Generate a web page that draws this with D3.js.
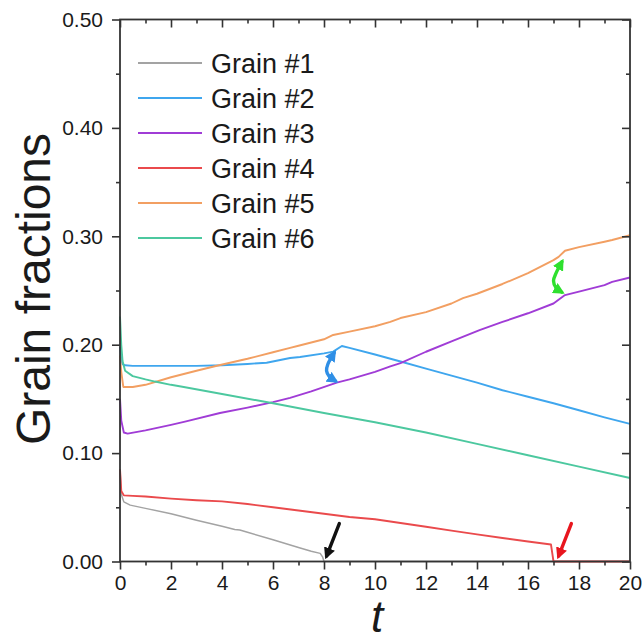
<!DOCTYPE html>
<html>
<head>
<meta charset="utf-8">
<script src="https://cdn.jsdelivr.net/npm/d3@7"></script>
<style>
  body { margin: 0; background: #fff; }
  text { font-family: "Liberation Sans", Arial, sans-serif; fill: #1a1a1a; }
</style>
</head>
<body>
<script>
// series names and colours
var names = ["Grain #1", "Grain #2", "Grain #3", "Grain #4", "Grain #5", "Grain #6"];
var colors = ["#a3a3a3", "#3fa6ee", "#a03cd6", "#ea4a4c", "#f29f62", "#4cc89f"];

// values (t, fraction)
var g1t = [0, 0.05, 0.15, 0.4, 1, 2, 3, 4, 4.5, 4.7, 5, 6, 7, 7.5, 7.85, 7.95, 8.0, 20];
var g1v = [0.085, 0.062, 0.055, 0.052, 0.049, 0.044, 0.038, 0.0325, 0.0295, 0.029, 0.027, 0.020, 0.013, 0.0095, 0.0075, 0.004, 0, 0];

var g2t = [0, 0.05, 0.1, 0.2, 0.5, 1, 2, 3, 4, 5, 5.75, 6.67, 7.06, 8, 8.36, 8.7, 9, 10, 11, 12, 13, 14, 15, 16, 17, 18, 19, 20];
var g2v = [0.198, 0.186, 0.182, 0.181, 0.1805, 0.1805, 0.1805, 0.1805, 0.181, 0.1822, 0.1834, 0.1877, 0.1886, 0.192, 0.1936, 0.1988, 0.197, 0.191, 0.1845, 0.178, 0.1715, 0.165, 0.158, 0.152, 0.146, 0.1395, 0.133, 0.127];

var g3t = [0, 0.05, 0.15, 0.3, 1, 2, 2.55, 3.92, 5, 6, 6.67, 7.5, 8.5, 9, 10, 10.6, 11, 12, 13, 14.1, 15, 16, 17, 17.45, 18, 19, 19.3, 20];
var g3v = [0.15, 0.13, 0.119, 0.118, 0.121, 0.126, 0.129, 0.137, 0.142, 0.147, 0.151, 0.157, 0.165, 0.168, 0.175, 0.18, 0.183, 0.1935, 0.203, 0.2135, 0.221, 0.229, 0.238, 0.2458, 0.249, 0.255, 0.258, 0.262];

var g4t = [0, 0.05, 0.15, 0.5, 1, 2, 3, 4, 5, 6, 7, 8, 9, 10, 11, 12, 13, 14, 15, 16, 16.9, 16.95, 17.0, 20];
var g4v = [0.085, 0.065, 0.061, 0.0605, 0.060, 0.058, 0.0565, 0.0555, 0.053, 0.050, 0.047, 0.044, 0.041, 0.039, 0.0355, 0.032, 0.0285, 0.025, 0.0217, 0.0185, 0.0157, 0.008, 0, 0];

var g5t = [0, 0.05, 0.13, 0.5, 1, 2, 3, 3.8, 5, 6, 6.67, 7, 8, 8.36, 9, 10, 10.6, 11, 12, 13, 13.45, 14, 15, 16, 17, 17.2, 17.45, 18, 19, 19.3, 20];
var g5v = [0.19, 0.175, 0.161, 0.161, 0.163, 0.170, 0.176, 0.1806, 0.187, 0.193, 0.197, 0.199, 0.205, 0.209, 0.212, 0.217, 0.221, 0.2246, 0.230, 0.238, 0.243, 0.247, 0.256, 0.266, 0.278, 0.281, 0.2867, 0.290, 0.295, 0.2966, 0.301];

var g6t = [0, 0.05, 0.1, 0.2, 0.5, 1, 1.37, 2, 2.5, 4, 6, 8, 10, 12, 14, 16, 18, 20];
var g6v = [0.226, 0.2, 0.185, 0.176, 0.171, 0.168, 0.166, 0.163, 0.161, 0.1545, 0.146, 0.137, 0.1285, 0.119, 0.1085, 0.098, 0.0875, 0.077];

var seriesT = [g1t, g2t, g3t, g4t, g5t, g6t];
var seriesV = [g1v, g2v, g3v, g4v, g5v, g6v];

// ticks
var xMajor = [0, 2, 4, 6, 8, 10, 12, 14, 16, 18, 20];
var xMinor = [1, 3, 5, 7, 9, 11, 13, 15, 17, 19];
var yMajor = [0, 0.1, 0.2, 0.3, 0.4, 0.5];
var yMinor = [0.05, 0.15, 0.25, 0.35, 0.45];

// annotation arrows in data coords [t, value]
var blackArrow = [[8.6, 0.035], [8.1, 0.005]];
var redArrow = [[17.7, 0.035], [17.2, 0.005]];
var blueArrow = [[8.4, 0.1925], [8.15, 0.182], [8.1, 0.176], [8.2, 0.171], [8.45, 0.1665]];
var greenArrow = [[17.33, 0.2765], [17.1, 0.266], [17.0, 0.259], [17.1, 0.2525], [17.32, 0.2485]];

var W = 644, H = 643;
var mLeft = 120, mRight = 630, mTop = 19.5, mBottom = 561.5;

var x = d3.scaleLinear().domain([0, 20]).range([mLeft, mRight]);
var y = d3.scaleLinear().domain([0, 0.5]).range([mBottom, mTop]);

var svg = d3.select("body").append("svg")
    .attr("width", W)
    .attr("height", H);

// data lines
var line = d3.line()
    .x(function(d) { return x(d[0]); })
    .y(function(d) { return y(d[1]); });

var order = [0, 1, 2, 4, 5, 3];
order.forEach(function(k) {
    var pts = seriesT[k].map(function(t, i) { return [t, seriesV[k][i]]; });
    svg.append("path")
        .datum(pts)
        .attr("d", line)
        .attr("fill", "none")
        .attr("stroke", colors[k])
        .attr("stroke-width", k == 0 ? 1.5 : 1.9)
        .attr("stroke-linejoin", "round");
});

// axes
function styleAxis(g) {
    g.attr("font-size", 21).attr("font-family", null);
    g.select(".domain").remove();
    g.selectAll(".tick line").attr("stroke", "#333").attr("stroke-width", 1.6);
    g.selectAll(".tick text").attr("fill", "#1a1a1a");
}

svg.append("g").attr("transform", "translate(0," + mBottom + ")")
    .call(d3.axisBottom(x).tickValues(xMajor).tickSize(8).tickPadding(6).tickFormat(d3.format("d")))
    .call(styleAxis);
svg.append("g").attr("transform", "translate(0," + mBottom + ")")
    .call(d3.axisBottom(x).tickValues(xMinor).tickSize(4).tickFormat(""))
    .call(styleAxis);
svg.append("g").attr("transform", "translate(" + mLeft + ",0)")
    .call(d3.axisLeft(y).tickValues(yMajor).tickSize(8).tickPadding(9).tickFormat(d3.format(".2f")))
    .call(styleAxis);
svg.append("g").attr("transform", "translate(" + mLeft + ",0)")
    .call(d3.axisLeft(y).tickValues(yMinor).tickSize(4).tickFormat(""))
    .call(styleAxis);
// top and right: inward ticks, no labels
svg.append("g").attr("transform", "translate(0," + mTop + ")")
    .call(d3.axisBottom(x).tickValues(xMajor).tickSize(8).tickFormat(""))
    .call(styleAxis);
svg.append("g").attr("transform", "translate(0," + mTop + ")")
    .call(d3.axisBottom(x).tickValues(xMinor).tickSize(4).tickFormat(""))
    .call(styleAxis);
svg.append("g").attr("transform", "translate(" + mRight + ",0)")
    .call(d3.axisLeft(y).tickValues(yMajor).tickSize(8).tickFormat(""))
    .call(styleAxis);
svg.append("g").attr("transform", "translate(" + mRight + ",0)")
    .call(d3.axisLeft(y).tickValues(yMinor).tickSize(4).tickFormat(""))
    .call(styleAxis);

// frame
svg.append("rect")
    .attr("x", mLeft).attr("y", mTop)
    .attr("width", mRight - mLeft).attr("height", mBottom - mTop)
    .attr("fill", "none")
    .attr("stroke", "#333")
    .attr("stroke-width", 1.8);

// axis titles
svg.append("text")
    .attr("transform", "translate(50,289) rotate(-90)")
    .attr("text-anchor", "middle")
    .attr("font-size", 48)
    .text("Grain fractions");

svg.append("text")
    .attr("x", 377).attr("y", 632)
    .attr("text-anchor", "middle")
    .attr("font-size", 44)
    .attr("font-style", "italic")
    .text("t");

// legend
var legend = svg.append("g");
names.forEach(function(n, i) {
    var ly = 63 + i * 35;
    legend.append("line")
        .attr("x1", 138).attr("x2", 202)
        .attr("y1", ly).attr("y2", ly)
        .attr("stroke", colors[i])
        .attr("stroke-width", 1.8);
    legend.append("text")
        .attr("x", 211).attr("y", ly + 10)
        .attr("font-size", 27)
        .text(n);
});

// arrows
var defs = svg.append("defs");
function marker(id, col) {
    defs.append("marker")
        .attr("id", id)
        .attr("viewBox", "0 -5 10 10")
        .attr("refX", 7).attr("refY", 0)
        .attr("markerWidth", 3.4).attr("markerHeight", 3.4)
        .attr("orient", "auto-start-reverse")
        .append("path")
        .attr("d", "M0,-5L10,0L0,5Z")
        .attr("fill", col);
}
marker("mk-black", "#111");
marker("mk-red", "#e8161e");
marker("mk-blue", "#2f8fe6");
marker("mk-green", "#2ee02e");

var arrowLine = d3.line()
    .x(function(d) { return x(d[0]); })
    .y(function(d) { return y(d[1]); })
    .curve(d3.curveCatmullRom);

function arrow(pts, col, id, both) {
    var p = svg.append("path")
        .attr("d", arrowLine(pts))
        .attr("fill", "none")
        .attr("stroke", col)
        .attr("stroke-width", 3.4)
        .attr("stroke-linecap", "round")
        .attr("marker-end", "url(#" + id + ")");
    if (both) p.attr("marker-start", "url(#" + id + ")");
}
arrow(blackArrow, "#111", "mk-black", false);
arrow(redArrow, "#e8161e", "mk-red", false);
arrow(blueArrow, "#2f8fe6", "mk-blue", true);
arrow(greenArrow, "#2ee02e", "mk-green", true);
</script>
</body>
</html>
